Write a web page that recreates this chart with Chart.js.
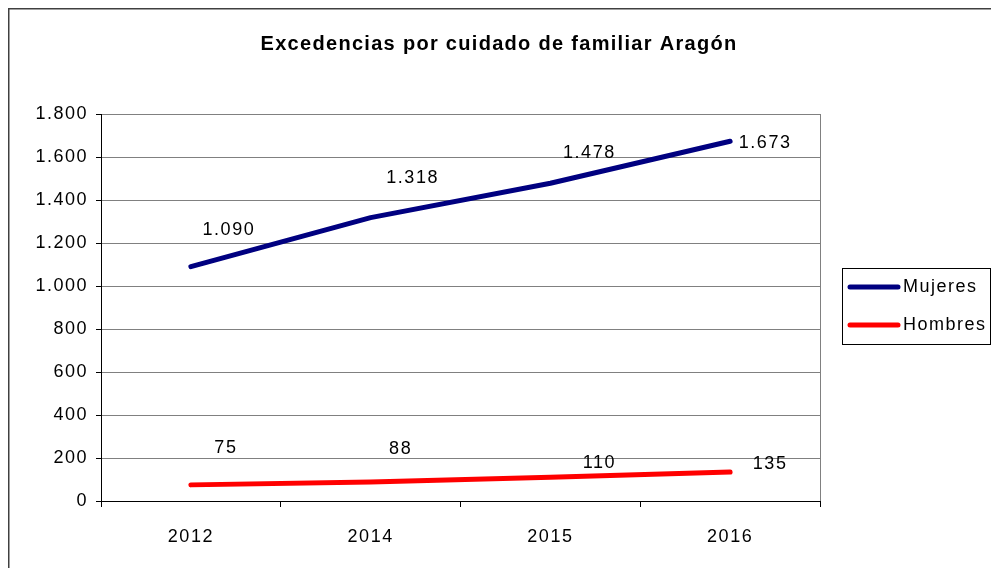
<!DOCTYPE html>
<html>
<head>
<meta charset="utf-8">
<script src="https://cdn.jsdelivr.net/npm/chart.js@4/dist/chart.umd.min.js"></script>
<style>
html,body{margin:0;padding:0;background:#fff;}
#wrap{width:991px;height:568px;position:relative;}
</style>
</head>
<body>
<div id="wrap"><canvas id="c" width="991" height="568"></canvas></div>
<script>
const categories = ['2012', '2014', '2015', '2016'];
const mujeres = [1090, 1318, 1478, 1673];
const hombres = [75, 88, 110, 135];
const mujeresLabels = ['1.090', '1.318', '1.478', '1.673'];
const hombresLabels = ['75', '88', '110', '135'];
const yTickLabels = ['0', '200', '400', '600', '800', '1.000', '1.200', '1.400', '1.600', '1.800'];
const titleText = 'Excedencias por cuidado de familiar Aragón';

const FONT = '"Liberation Sans", Arial, sans-serif';
const LS = '1.5px';
// label offsets relative to point (dx, dy)
const labelOffsets = [
  [[38, -37], [42, -40], [39, -30], [35, 2]],
  [[35, -37], [30, -33], [49, -14], [40, -8]]
];
const pointLabels = [mujeresLabels, hombresLabels];

const framePlugin = {
  id: 'frame',
  beforeDraw(chart) {
    const ctx = chart.ctx;
    ctx.fillStyle = '#fff';
    ctx.fillRect(0, 0, chart.width, chart.height);
    ctx.save();
    ctx.strokeStyle = '#404040';
    ctx.lineWidth = 1.5;
    ctx.beginPath();
    ctx.moveTo(8.75, chart.height);
    ctx.lineTo(8.75, 8.75);
    ctx.lineTo(chart.width, 8.75);
    ctx.stroke();
    // title
    ctx.fillStyle = '#000';
    ctx.font = 'bold 20px ' + FONT;
    ctx.letterSpacing = '1.3px';
    ctx.textAlign = 'center';
    ctx.textBaseline = 'middle';
    ctx.fillText(titleText, 499, 44);
    ctx.restore();
    ctx.letterSpacing = LS;
  },
  afterDatasetsDraw(chart) {
    const ctx = chart.ctx;
    const a = chart.chartArea;
    ctx.save();
    ctx.letterSpacing = LS;
    ctx.strokeStyle = '#808080';
    ctx.lineWidth = 1;
    ctx.beginPath();
    ctx.moveTo(Math.round(a.right) + 0.5, a.top);
    ctx.lineTo(Math.round(a.right) + 0.5, a.bottom);
    ctx.stroke();
    // data labels
    ctx.fillStyle = '#000';
    ctx.font = '18px ' + FONT;
    ctx.textAlign = 'center';
    ctx.textBaseline = 'middle';
    chart.data.datasets.forEach((ds, di) => {
      const meta = chart.getDatasetMeta(di);
      meta.data.forEach((pt, i) => {
        const off = labelOffsets[di][i];
        ctx.fillText(pointLabels[di][i], pt.x + off[0], pt.y + off[1]);
      });
    });
    // legend
    const lx = 842.5, ly = 268.5, lw = 148, lh = 76;
    ctx.strokeStyle = '#000';
    ctx.lineWidth = 1;
    ctx.strokeRect(lx, ly, lw, lh);
    ctx.textAlign = 'left';
    ctx.lineCap = 'round';
    chart.data.datasets.forEach((ds, di) => {
      const y = 287 + di * 38;
      ctx.strokeStyle = ds.borderColor;
      ctx.lineWidth = 5;
      ctx.beginPath();
      ctx.moveTo(850, y);
      ctx.lineTo(898, y);
      ctx.stroke();
      ctx.fillStyle = '#000';
      ctx.fillText(ds.label, 903, y);
    });
    ctx.restore();
  }
};

new Chart(document.getElementById('c'), {
  type: 'line',
  data: {
    labels: categories,
    datasets: [
      { label: 'Mujeres', data: mujeres, borderColor: '#000080', backgroundColor: '#000080', borderWidth: 5, pointRadius: 0, tension: 0, borderCapStyle: 'round', borderJoinStyle: 'round' },
      { label: 'Hombres', data: hombres, borderColor: '#ff0000', backgroundColor: '#ff0000', borderWidth: 5, pointRadius: 0, tension: 0, borderCapStyle: 'round', borderJoinStyle: 'round' }
    ]
  },
  options: {
    responsive: false,
    animation: false,
    events: [],
    layout: { padding: { left: 0, right: 171, top: 114, bottom: 0 } },
    plugins: {
      legend: { display: false },
      tooltip: { enabled: false },
      title: { display: false }
    },
    scales: {
      x: {
        offset: true,
        grid: { offset: true, drawOnChartArea: false, drawTicks: true, tickLength: 6, color: '#000' },
        border: { display: true, color: '#000', width: 1 },
        ticks: { color: '#000', font: { family: FONT, size: 18 }, padding: 19, maxRotation: 0 },
        afterFit(s) { s.height = 67; }
      },
      y: {
        min: 0, max: 1800,
        ticks: { stepSize: 200, color: '#000', font: { family: FONT, size: 18 }, padding: 8,
          callback: (v, i) => yTickLabels[i] },
        grid: { color: '#808080', tickLength: 5, tickColor: '#000' },
        border: { display: true, color: '#000', width: 1 },
        afterFit(s) { s.width = 101; }
      }
    }
  },
  plugins: [framePlugin]
});
</script>
</body>
</html>
